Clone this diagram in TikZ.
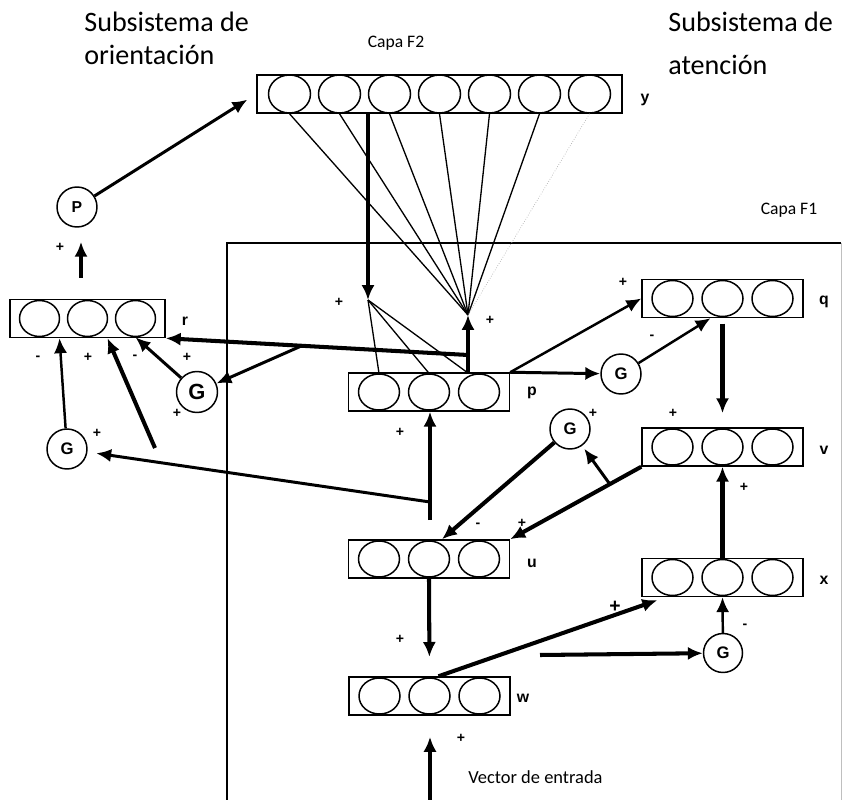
\documentclass[tikz,border=0pt]{standalone}
\usepackage{amsmath}
\usepackage{fontspec}
\setmainfont{Carlito}
\newfontfamily\arialfont{Liberation Sans}
\usetikzlibrary{arrows.meta,shapes.geometric,calc}

\begin{document}
\begin{tikzpicture}[x=0.02cm,y=-0.02cm,
  >={Latex[length=8.5pt,width=7.5pt]},
  capa/.style={draw,line width=0.85pt,minimum height=0.76cm,inner sep=0pt},
  neurona/.style={draw,ellipse,line width=0.85pt,minimum width=0.82cm,minimum height=0.72cm,inner sep=0pt},
  gnodo/.style={draw,circle,line width=0.85pt,minimum size=0.8cm,inner sep=0pt,fill=white,font=\arialfont\bfseries\fontsize{9.5}{10}\selectfont},
  etiq/.style={font=\arialfont\bfseries\fontsize{9}{10}\selectfont},
  signo/.style={font=\arialfont\bfseries\fontsize{8}{9}\selectfont},
  flecha/.style={->,line width=1.7pt},
  flechagruesa/.style={->,line width=2.3pt},
  fino/.style={line width=0.75pt}
]
\useasboundingbox (0,0) rectangle (842,800);

% marco de la capa F1
\draw[line width=0.85pt] (227,800) -- (227,243) -- (841,243);
\draw[gray!50,line width=0.5pt] (841,243) -- (841,800);

% capa F2
\node[capa,minimum width=7.3cm] (capaY) at (439.5,94) {};
\foreach \i in {1,...,7}
  \node[neurona,minimum width=0.84cm,minimum height=0.76cm] (y\i) at (239.5+50*\i,94) {};

% capa r
\node[capa,minimum width=3.1cm] (capaR) at (87.5,318.5) {};
\foreach \i in {1,2,3}
  \node[neurona,minimum width=0.8cm] (r\i) at (-8.5+48*\i,318.5) {};

% capas de F1
\foreach \n/\N/\cx/\cy in {p/P/429/392, q/Q/722.5/298.5, v/V/722.5/447, x/X/722.5/577.5, u/U/429/559, w/W/429.5/696} {
  \node[capa,minimum width=3.22cm] (capa\N) at (\cx,\cy) {};
  \foreach \i in {1,2,3}
    \node[neurona] (\n\i) at (\cx-100+50*\i,\cy) {};
}

\foreach \n/\lx/\ly in {y/645/100, r/185/321, p/532/393, q/824/302, v/824/450, x/824/580, u/532/563, w/523/698}
  \node[etiq] (lbl\n) at (\lx,\ly) {\n};

% nodos de ganancia
\node[gnodo] (gO) at (67,449) {G};
\node[gnodo,minimum size=0.82cm,font=\arialfont\bfseries\fontsize{12.5}{13}\selectfont] (gR) at (197,392) {G};
\node[gnodo] (gP) at (621,374) {G};
\node[gnodo] (gU) at (570,429) {G};
\node[gnodo,minimum size=0.78cm] (gX) at (723,653) {G};
\node[gnodo,font=\arialfont\bfseries\fontsize{9}{10}\selectfont] (pO) at (77,207) {P};

% subsistema de orientacion
\draw[flecha,shorten >=6pt] (pO) -- (capaY.west);
\coordinate (rArr) at (81,278);
\draw[flechagruesa,shorten >=8pt] (rArr) -- (rArr |- pO.south);

\coordinate (jP) at (468,355);
\coordinate (hub) at (468,315);
\coordinate (pBase) at (468,373);
\draw[flechagruesa] (jP) -- (capaR.south east);
\coordinate (jR) at ($(jP)!0.55!(capaR.south east)$);
\draw[flecha] (jR) -- (gR);
\draw[flecha] (gR) -- (r3.south);
\coordinate (rEnt) at (155,448);
\draw[flechagruesa] (rEnt) -- ($(capaR.south)+(20,0)$);
\draw[flecha,line width=1.4pt] (gO) -- ($(capaR.south)+(-28,0)$);

\coordinate (uArr) at (430,520);
\coordinate (jU) at (430,502);
\draw[flechagruesa] (uArr) -- (uArr |- capaP.south);
\draw[flecha,shorten >=5pt] (jU) -- (gO);

% F2 <-> F1
\coordinate (fan) at (368,300);
\draw[->,line width=2.8pt] (capaY.south -| fan) -- (fan);
\foreach \i in {1,2}
  \draw[fino] (fan) -- (p\i.north);
\draw[fino] (fan) -- (pBase);
\draw[->,line width=2.8pt] (pBase) -- (hub);
\foreach \i in {1,...,6}
  \draw[fino] (y\i.south) -- (hub);
\draw[gray!60,line width=0.4pt,densely dotted] (y7.south) -- (hub);

% subsistema de atencion
\draw[flecha,line width=1.4pt] (capaP.north east) -- (capaQ.west);
\draw[flecha] (capaP.north east) -- (gP);
\draw[flecha,line width=1.4pt] (gP) -- ($(capaQ.south)+(-12,0)$);
\draw[flechagruesa,shorten <=3pt,shorten >=8pt] (capaQ.south) -- (capaV.north);

\draw[flechagruesa] (capaV.south west) -- (capaU.north east);
\coordinate (jV) at ($(capaV.south west)!0.24!(capaU.north east)$);
\draw[flecha,shorten >=2pt] (jV) -- (gU);
\draw[flechagruesa] (gU) -- ($(capaU.north)+(13,0)$);

\draw[flechagruesa,shorten >=11pt] (capaU.south) -- (capaW.north);
\draw[flechagruesa] ($(capaW.north)+(9,0)$) -- ($(capaX.south west)+(16,3)$);
\coordinate (hIni) at (540,655);
\draw[flechagruesa] (hIni) -- (gX);
\draw[flecha,line width=1.4pt] (gX) -- (capaX.south);
\draw[flechagruesa] (capaX.north) -- (capaV.south);
\coordinate (entrada) at (430,800);
\draw[flechagruesa,shorten >=12pt] (entrada) -- (entrada |- capaW.south);

% signos
\foreach \sx/\sy/\s [count=\k] in {60/247/+, 38/358/-, 88/357/+, 135/357/-, 187/357/+,
    97/433/+, 177/413/+, 339/302/+, 490/320/+, 400/432/+, 623/282/+, 652/337/-,
    593/413/+, 673/413/+, 478/525/-, 522/523/+, 744/487/+, 400/639/+, 745/626/-, 461/738/+}
  \node[signo] (s\k) at (\sx,\sy) {\s};
\node[signo,font=\arialfont\bfseries\fontsize{11}{12}\selectfont] (sWX) at (615,607) {+};

% textos
\node[anchor=north west,align=left,inner sep=0pt,font=\fontsize{16}{18.8}\selectfont] (tOrient) at (84,12) {Subsistema de\\orientación};
\node[anchor=north west,align=left,inner sep=0pt,font=\fontsize{16}{24.5}\selectfont] (tAten) at (668,12) {Subsistema de\\atención};
\node[anchor=base,font=\fontsize{10}{12}\selectfont] (tF2) at (396,48) {Capa F2};
\node[anchor=base,font=\fontsize{10}{12}\selectfont] (tF1) at (789,215) {Capa F1};
\node[anchor=base west,inner sep=0pt,font=\fontsize{10.5}{12}\selectfont] (tEnt) at (468,783) {Vector de entrada};

\end{tikzpicture}
\end{document}
